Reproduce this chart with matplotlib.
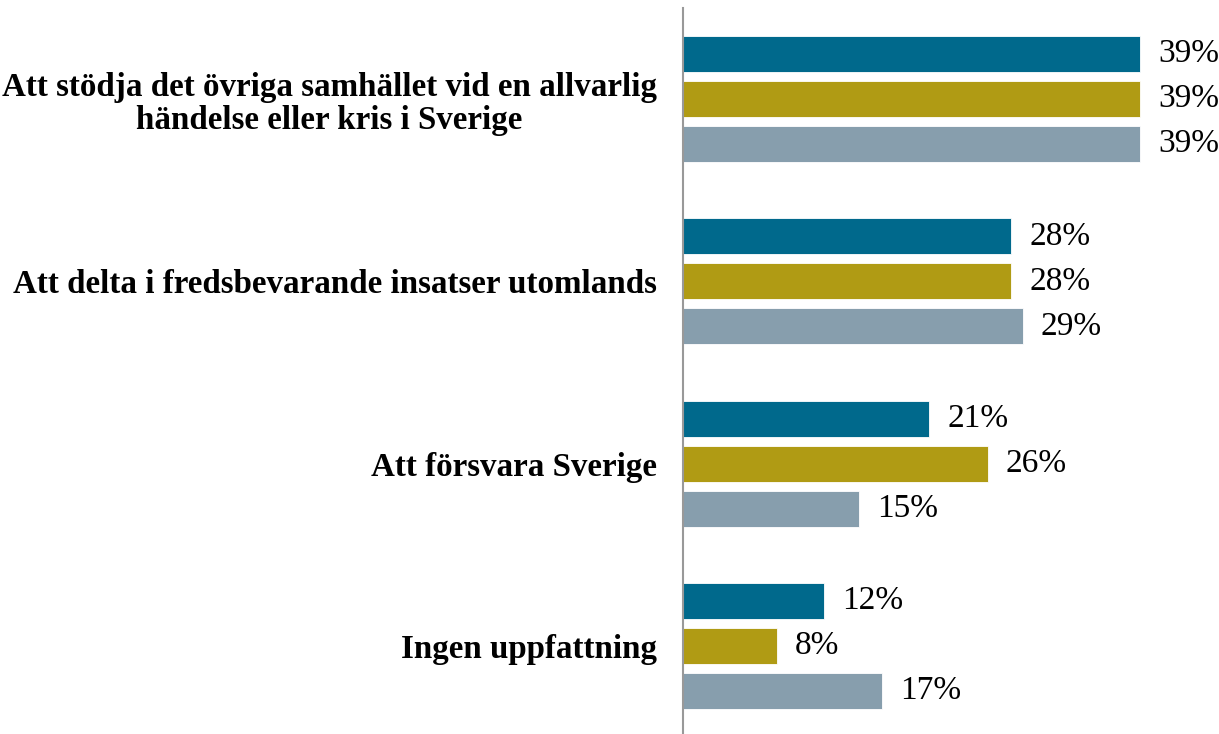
import matplotlib
matplotlib.use('Agg')
import matplotlib.pyplot as plt
import numpy as np

categories = [
    'Att stödja det övriga samhället vid en allvarlig\nhändelse eller kris i Sverige',
    'Att delta i fredsbevarande insatser utomlands',
    'Att försvara Sverige',
    'Ingen uppfattning',
]
series_a = [39, 28, 21, 12]
series_b = [39, 28, 26, 8]
series_c = [39, 29, 15, 17]
colors = ['#00698C', '#B09B14', '#879EAD']

plt.rcParams['font.family'] = ['Liberation Serif', 'DejaVu Serif']

fig = plt.figure(figsize=(12.19, 7.34), dpi=100)
ax = fig.add_axes([683 / 1219, 0, 1 - 683 / 1219, 1 - 8 / 734])

y = np.arange(len(categories))
offset = 0.247
height = 0.197
for i, (vals, col) in enumerate(zip([series_a, series_b, series_c], colors)):
    bars = ax.barh(y + (i - 1) * offset, vals, height=height, color=col,
                   edgecolor='white', linewidth=0.6)
    ax.bar_label(bars, labels=[f'{v}%' for v in vals], padding=13,
                 fontsize=24, color='black')

ax.set_xlim(0, (1219 - 683) / 11.72)
ax.set_ylim(3.483, -0.5)
ax.set_yticks(y)
ax.set_yticklabels(categories, fontsize=23.8, fontweight='bold',
                   multialignment='center', linespacing=1.1)
ax.tick_params(axis='y', length=0, pad=19)
ax.set_xticks([])
for s in ['top', 'right', 'bottom']:
    ax.spines[s].set_visible(False)
ax.spines['left'].set_color('#999999')
ax.spines['left'].set_linewidth(1.5)

fig.savefig('out.png', dpi=100)
